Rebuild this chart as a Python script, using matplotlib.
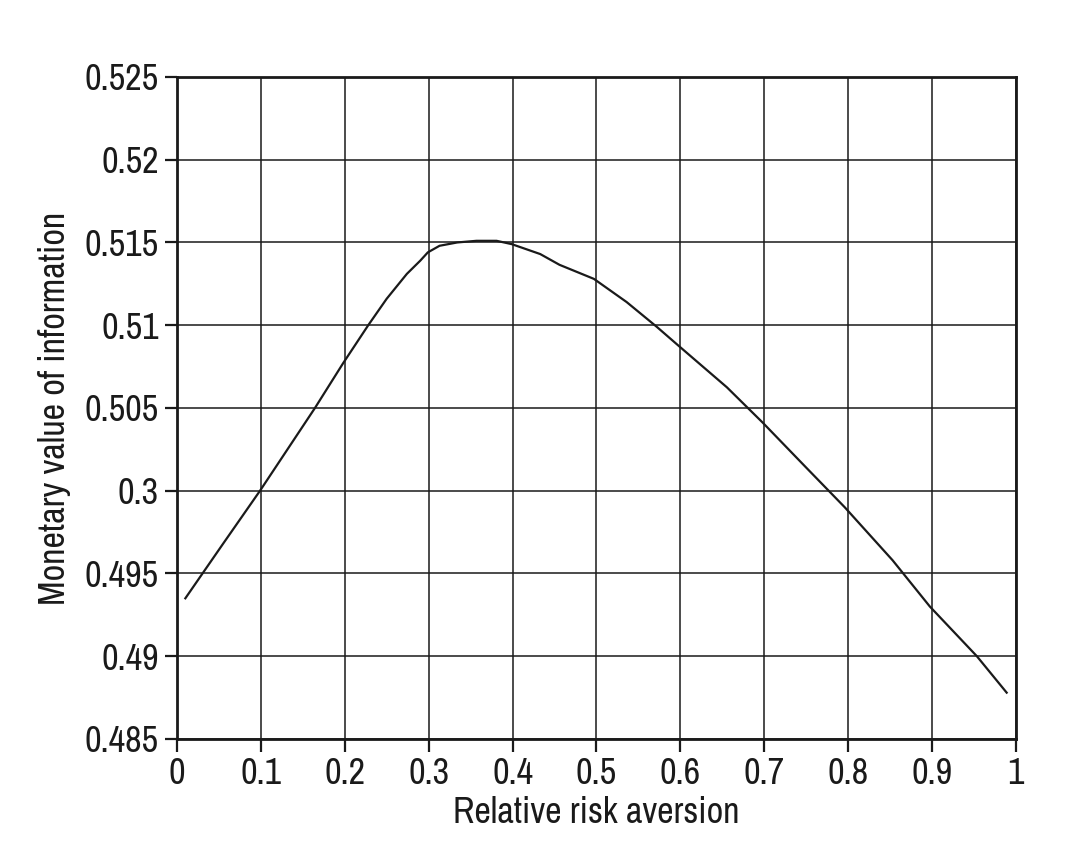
"""Monetary value of information against relative risk aversion."""

import matplotlib
matplotlib.use("Agg")
import matplotlib.pyplot as plt
from matplotlib import font_manager

# the figure uses a condensed grotesque; take a narrow face if one is installed
names = sorted({f.name for f in font_manager.fontManager.ttflist})
narrow = [n for n in names if "Narrow" in n or "Condensed" in n]
plt.rcParams["font.family"] = narrow[:1] + ["Liberation Sans", "DejaVu Sans"]

# curve
risk_aversion = [0.01, 0.055, 0.099, 0.1645, 0.198, 0.228, 0.250, 0.274, 0.290, 0.299,
                 0.313, 0.334, 0.357, 0.381, 0.399, 0.433, 0.456, 0.497, 0.536, 0.572,
                 0.597, 0.6555, 0.6985, 0.75, 0.796, 0.853, 0.8975, 0.9535, 0.989]
info_value = [0.4935, 0.4968, 0.5000, 0.5050, 0.5077, 0.5100, 0.5116, 0.5131, 0.5139, 0.5144,
              0.5148, 0.5150, 0.5151, 0.5151, 0.5149, 0.5143, 0.51365, 0.5128, 0.5114, 0.5099,
              0.5088, 0.50625, 0.5041, 0.5014, 0.4990, 0.4958, 0.4930, 0.4900, 0.4878]

x_ticks = [0, 0.1, 0.2, 0.3, 0.4, 0.5, 0.6, 0.7, 0.8, 0.9, 1.0]
x_labels = ["0", "0.1", "0.2", "0.3", "0.4", "0.5", "0.6", "0.7", "0.8", "0.9", "1"]
y_ticks = [0.485, 0.49, 0.495, 0.5, 0.505, 0.51, 0.515, 0.52, 0.525]
# the original figure prints "0.3" where 0.5 belongs
y_labels = ["0.485", "0.49", "0.495", "0.3", "0.505", "0.51", "0.515", "0.52", "0.525"]

fig = plt.figure(figsize=(10.66, 8.58), dpi=100)
ax = fig.add_axes([0.166, 0.1387, 0.787, 0.7716])

ax.plot(risk_aversion, info_value, color="#1a1a1a", linewidth=1.6)

ax.set_xlim(0, 1)
ax.set_ylim(0.485, 0.525)
ax.set_xticks(x_ticks, x_labels)
ax.set_yticks(y_ticks, y_labels)
ax.grid(True, color="#1a1a1a", linewidth=1.1)
ax.set_axisbelow(True)

size = 26 if narrow else 21
for spine in ax.spines.values():
    spine.set_linewidth(2.0)
    spine.set_color("#1a1a1a")
ax.tick_params(direction="out", length=9, width=1.6, colors="#1a1a1a",
               labelsize=size, pad=4)

ax.set_xlabel("Relative risk aversion", fontsize=size, color="#1a1a1a", labelpad=4)
ax.set_ylabel("Monetary value of information", fontsize=size, color="#1a1a1a",
              labelpad=10)

fig.savefig("out.png", dpi=100, facecolor="white")
